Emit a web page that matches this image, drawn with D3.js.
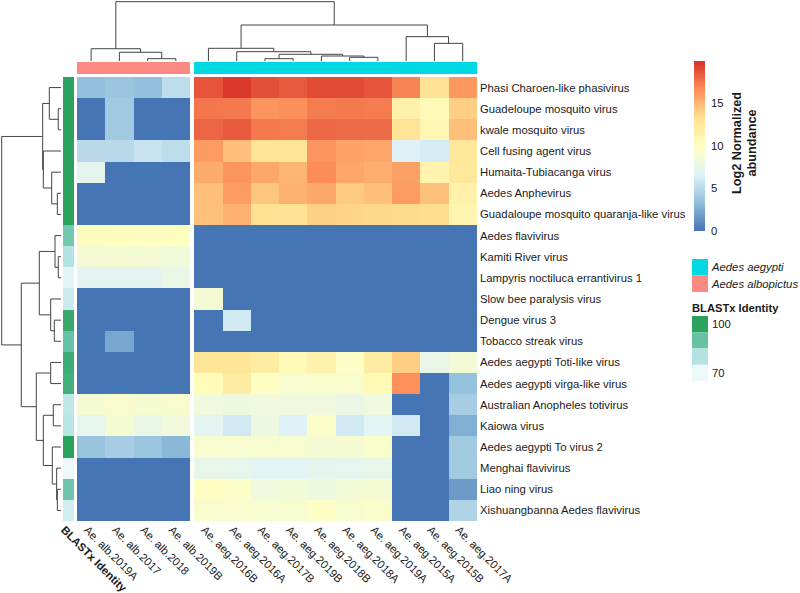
<!DOCTYPE html>
<html>
<head>
<meta charset="utf-8">
<script src="https://cdnjs.cloudflare.com/ajax/libs/d3/7.8.5/d3.min.js"></script>
<style>
  html, body { margin: 0; padding: 0; background: #fff; }
  svg { display: block; }
  text { font-family: "Liberation Sans", Arial, sans-serif; fill: #1a1a1a; }
</style>
</head>
<body>
<div id="container"></div>
<script>
const colLabels = ["Ae. alb.2019A", "Ae. alb.2017", "Ae. alb.2018", "Ae. alb.2019B",
  "Ae. aeg.2016B", "Ae. aeg.2016A", "Ae. aeg.2017B", "Ae. aeg.2019B", "Ae. aeg.2018B",
  "Ae. aeg.2018A", "Ae. aeg.2019A", "Ae. aeg.2015A", "Ae. aeg.2015B", "Ae. aeg.2017A"];
const colSpecies = ["alb", "alb", "alb", "alb", "aeg", "aeg", "aeg", "aeg", "aeg", "aeg", "aeg", "aeg", "aeg", "aeg"];

const rowLabels = ["Phasi Charoen-like phasivirus", "Guadeloupe mosquito virus", "kwale mosquito virus",
  "Cell fusing agent virus", "Humaita-Tubiacanga virus", "Aedes Anphevirus",
  "Guadaloupe mosquito quaranja-like virus", "Aedes flavivirus", "Kamiti River virus",
  "Lampyris noctiluca errantivirus 1", "Slow bee paralysis virus", "Dengue virus 3",
  "Tobacco streak virus", "Aedes aegypti Toti-like virus", "Aedes aegypti virga-like virus",
  "Australian Anopheles totivirus", "Kaiowa virus", "Aedes aegypti To virus 2",
  "Menghai flavivirus", "Liao ning virus", "Xishuangbanna Aedes flavivirus"];

// BLASTx identity of each row
const identity = [100, 100, 100, 100, 100, 100, 100, 88, 80, 72, 76, 98, 90, 97, 96, 78, 79, 100, 70, 89, 75];

// log2 normalized abundance, one row per virus
const abundance = [
  [3.4, 3.7, 3.4, 5.2, 18.6, 19.6, 18.8, 18.4, 18.9, 18.9, 18.6, 16.9, 13, 16.2],
  [0, 4, 0, 0, 17.4, 17.3, 16.3, 16.5, 17.2, 17.3, 17.2, 11.4, 10.5, 14],
  [0, 4, 0, 0, 18, 18.4, 17.3, 17.2, 17.9, 17.8, 17.8, 12.8, 10.8, 14.6],
  [5, 5, 5.6, 5.2, 16, 14.6, 12.8, 12.8, 16.3, 15.7, 15.6, 6.5, 6.2, 12.5],
  [7.2, 0, 0, 0, 15.4, 16.3, 15.5, 15, 16.6, 15.6, 15.3, 15.8, 11.2, 12.4],
  [0, 0, 0, 0, 14.6, 16, 14.3, 15.1, 15.5, 14.1, 14.6, 16, 14.5, 11.5],
  [0, 0, 0, 0, 14.5, 15.2, 13.1, 13, 13.9, 13.7, 13.6, 13.5, 13.3, 11],
  [10.2, 10.1, 10, 10, 0, 0, 0, 0, 0, 0, 0, 0, 0, 0],
  [8.7, 8.8, 8.7, 8.5, 0, 0, 0, 0, 0, 0, 0, 0, 0, 0],
  [7, 7, 7, 7.7, 0, 0, 0, 0, 0, 0, 0, 0, 0, 0],
  [0, 0, 0, 0, 8.7, 0, 0, 0, 0, 0, 0, 0, 0, 0],
  [0, 0, 0, 0, 0, 6, 0, 0, 0, 0, 0, 0, 0, 0],
  [0, 2.2, 0, 0, 0, 0, 0, 0, 0, 0, 0, 0, 0, 0],
  [0, 0, 0, 0, 12.6, 12.6, 12, 10.5, 11.3, 9.6, 12, 14, 7.6, 8.6],
  [0, 0, 0, 0, 10.3, 12, 9.8, 9, 9.2, 9.2, 10.6, 16.5, 0, 3.5],
  [8.8, 9.2, 8.9, 9.2, 8.3, 8.1, 8.3, 8.3, 8.3, 7.8, 8.3, 0, 0, 4.2],
  [7.3, 8.8, 7.7, 8.3, 7, 6, 8, 6.6, 9.4, 6, 6.9, 6, 0, 2.6],
  [3.6, 4.2, 3.7, 3, 9, 9, 9, 9, 8.8, 8.9, 9.3, 0, 0, 4],
  [0, 0, 0, 0, 7.5, 7.4, 6.9, 6.9, 7.2, 7.3, 7.5, 0, 0, 4],
  [0, 0, 0, 0, 9.8, 9.4, 8.3, 8.6, 8.1, 8.6, 8.8, 0, 0, 1.7],
  [0, 0, 0, 0, 9.2, 9.2, 9, 9.1, 9.6, 9.1, 9.3, 0, 0, 4.6]
];

// dendrogram merges, hclust style: [a, b, height]
// negative = leaf number (1 based), positive = earlier merge (1 based)
const colMerges = [
  [-3, -4, 3.9], [-2, 1, 14.7], [-1, 2, 20.7],
  [-10, -11, 6.2], [-9, 4, 8.4], [-7, -8, 3.9], [6, 5, 11.3], [-6, 7, 15.7], [-5, 8, 21.4],
  [-13, -14, 29.8], [-12, 10, 41], [9, 11, 60.7], [3, 12, 100]
];
const rowMerges = [
  [-2, -3, 4.6], [-1, 1, 19.7], [-6, -7, 6.2], [-5, 3, 15.7], [-4, 4, 29.8], [2, 5, 30.9],
  [-9, -10, 4.6], [-8, 7, 10.1], [-12, -13, 11.3], [-11, 9, 17.4], [8, 10, 36.6],
  [-14, -15, 17.4], [-16, -17, 13], [-20, -21, 6.2], [-19, 14, 7.3], [-18, 15, 14.7],
  [13, 16, 29.8], [12, 17, 41.7], [11, 18, 67], [6, 19, 100]
];

const speciesNames = ["Aedes aegypti", "Aedes albopictus"];
const identityLegend = [100, 90, 80, 70];
const abundanceTicks = [0, 5, 10, 15];

const width = 800, height = 593;
const svg = d3.select("#container").append("svg").attr("width", width).attr("height", height);

// Color schemes
const palette = ["#4575B4", "#91BFDB", "#E0F3F8", "#FFFFBF", "#FEE090", "#FC8D59", "#D73027"];
const maxValue = 19.9;
const color = d3.scaleLinear()
  .domain(palette.map((d, i) => i * maxValue / (palette.length - 1)))
  .range(palette);
const identityColor = d3.scaleLinear().domain([70, 80, 90, 100])
  .range(["#EDF8FB", "#B2E2E2", "#66C2A4", "#2CA25F"]);
const speciesColor = d3.scaleOrdinal().domain(["aeg", "alb"]).range(["#00D8E2", "#FB8B82"]);

// Cell positions, with the gap between the two species
const colWidth = 28.25, gapWidth = 4.3;
const band = d3.scaleBand().domain(d3.range(colLabels.length)).range([77, 77 + colWidth * colLabels.length]);
const nAlb = colSpecies.filter(d => d === "alb").length;
const x = i => band(i) + (i >= nAlb ? gapWidth : 0);
const y = d3.scaleBand().domain(d3.range(rowLabels.length)).range([77, 521]);

// The heatmap
const cells = abundance.flatMap((row, r) => row.map((v, c) => ({ r, c, v })));
svg.append("g").attr("class", "cells").selectAll("rect").data(cells).enter().append("rect")
  .attr("x", d => x(d.c)).attr("y", d => y(d.r))
  .attr("width", band.bandwidth() + 0.3).attr("height", y.bandwidth() + 0.3)
  .attr("shape-rendering", "crispEdges")
  .attr("fill", d => color(d.v));

// Annotation strips
svg.append("g").selectAll("rect").data(colSpecies).enter().append("rect")
  .attr("x", (d, i) => x(i)).attr("y", 62)
  .attr("width", band.bandwidth() + 0.3).attr("height", 11.5)
  .attr("shape-rendering", "crispEdges")
  .attr("fill", d => speciesColor(d));

svg.append("g").selectAll("rect").data(identity).enter().append("rect")
  .attr("x", 62.5).attr("y", (d, i) => y(i))
  .attr("width", 11).attr("height", y.bandwidth() + 0.3)
  .attr("shape-rendering", "crispEdges")
  .attr("fill", d => identityColor(d));

// Row labels
svg.append("g").selectAll("text").data(rowLabels).enter().append("text")
  .attr("x", 480).attr("y", (d, i) => y(i) + y.bandwidth() / 2)
  .attr("dy", "0.35em").attr("font-size", 11.3)
  .text(d => d);

// Column labels
svg.append("g").selectAll("text").data(colLabels).enter().append("text")
  .attr("transform", (d, i) => `translate(${x(i) + 9},528) rotate(45)`)
  .attr("dy", "0.35em").attr("font-size", 11.3)
  .text(d => d);

svg.append("text")
  .attr("transform", "translate(63,528) rotate(45)")
  .attr("dy", "0.35em").attr("font-size", 11.3).attr("font-weight", "bold")
  .text("BLASTx Identity");

// Dendrograms: walks the merges and draws one bracket per merge
function drawDendrogram(merges, leafPos, heightPos, horizontal) {
  const pos = [];
  const segs = [];
  merges.forEach(([a, b, h], i) => {
    const end = k => k < 0
      ? { p: leafPos(-k - 1), h: 0 }
      : { p: pos[k - 1], h: merges[k - 1][2] };
    const A = end(a), B = end(b);
    pos[i] = (A.p + B.p) / 2;
    segs.push([[A.p, A.h], [A.p, h], [B.p, h], [B.p, B.h]]);
  });
  const line = d3.line().x(d => horizontal ? heightPos(d[1]) : d[0]).y(d => horizontal ? d[0] : heightPos(d[1]));
  svg.append("g").selectAll("path").data(segs).enter().append("path")
    .attr("d", line)
    .attr("fill", "none")
    .attr("stroke", "#444")
    .attr("stroke-width", 1);
}
const dendroScale = d3.scaleLinear().domain([0, 100]).range([61, 1.7]);
drawDendrogram(colMerges, i => x(i) + band.bandwidth() / 2, dendroScale, false);
drawDendrogram(rowMerges, i => y(i) + y.bandwidth() / 2, dendroScale, true);

// Abundance legend
const legendY = d3.scaleLinear().domain([0, maxValue]).range([231, 61]);
const grad = svg.append("defs").append("linearGradient")
  .attr("id", "abundance-grad").attr("x1", 0).attr("x2", 0).attr("y1", 1).attr("y2", 0);
grad.selectAll("stop").data(color.domain()).enter().append("stop")
  .attr("offset", d => d / maxValue)
  .attr("stop-color", d => color(d));
svg.append("rect").attr("x", 694).attr("y", 61).attr("width", 11).attr("height", 170)
  .attr("fill", "url(#abundance-grad)");

const legendAxis = svg.append("g").attr("transform", "translate(705,0)")
  .call(d3.axisRight(legendY).tickValues(abundanceTicks).tickSize(0).tickPadding(6));
legendAxis.select(".domain").remove();
legendAxis.selectAll("text").attr("font-size", 11.3)
  .style("font-family", '"Liberation Sans", Arial, sans-serif');

const legendTitle = svg.append("g").attr("transform", "translate(0,143)");
legendTitle.append("text").attr("transform", "translate(741,0) rotate(-90)")
  .attr("text-anchor", "middle").attr("font-size", 12.7).attr("font-weight", "bold")
  .text("Log2 Normalized");
legendTitle.append("text").attr("transform", "translate(756,0) rotate(-90)")
  .attr("text-anchor", "middle").attr("font-size", 12.7).attr("font-weight", "bold")
  .text("abundance");

// Species legend
const speciesY = d3.scaleBand().domain(speciesNames).range([259, 292]);
svg.append("g").selectAll("rect").data(speciesNames).enter().append("rect")
  .attr("x", 692).attr("y", d => speciesY(d))
  .attr("width", 16).attr("height", speciesY.bandwidth())
  .attr("fill", (d, i) => speciesColor.range()[i]);
svg.append("g").selectAll("text").data(speciesNames).enter().append("text")
  .attr("x", 712).attr("y", d => speciesY(d) + speciesY.bandwidth() / 2)
  .attr("dy", "0.35em").attr("font-size", 11.3).attr("font-style", "italic")
  .text(d => d);

// Identity legend
svg.append("text").attr("x", 692).attr("y", 312)
  .attr("font-size", 11.2).attr("font-weight", "bold").text("BLASTx Identity");
const identityY = d3.scaleBand().domain(identityLegend).range([316, 381]);
svg.append("g").selectAll("rect").data(identityLegend).enter().append("rect")
  .attr("x", 692).attr("y", d => identityY(d))
  .attr("width", 16).attr("height", identityY.bandwidth())
  .attr("fill", d => identityColor(d));
svg.append("g").selectAll("text").data([100, 70]).enter().append("text")
  .attr("x", 712).attr("y", d => identityY(d) + identityY.bandwidth() / 2)
  .attr("dy", "0.35em").attr("font-size", 11.3)
  .text(d => d);
</script>
</body>
</html>
